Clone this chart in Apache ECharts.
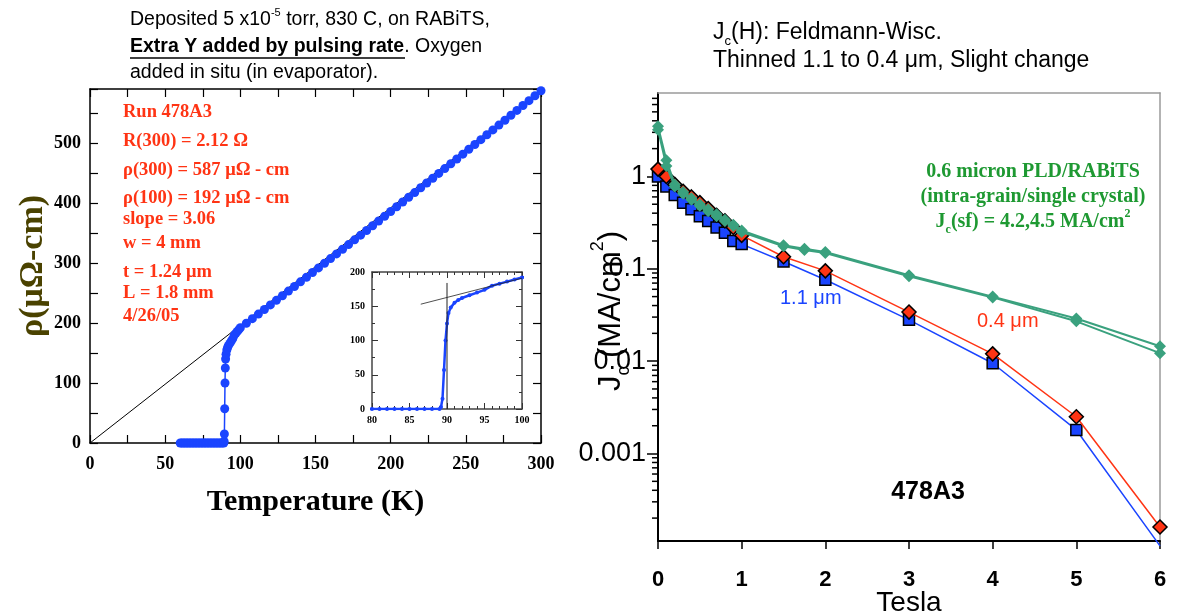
<!DOCTYPE html>
<html><head><meta charset="utf-8">
<script src="https://cdn.jsdelivr.net/npm/echarts@6/dist/echarts.min.js"></script>
<style>html,body{margin:0;padding:0;background:#fff}#c{width:1188px;height:616px}</style>
</head><body><div id="c"></div>
<script>
// ---------- Left panel: resistivity vs temperature ----------
const tempK = [60,61,62,63,64,65,66,67,68,69,70,71,72,73,74,75,76,77,78,79,80,81,82,83,84,85,86,87,88,89,
  89.2,89.4,89.6,89.8,90,90.2,90.5,91,91.5,92,93,94,95,96,97,98,99,100,
  104,108,112,116,120,124,128,132,136,140,144,148,152,156,160,164,168,172,176,180,184,188,192,196,200,
  204,208,212,216,220,224,228,232,236,240,244,248,252,256,260,264,268,272,276,280,284,288,292,296,300];
const rho = [0,0,0,0,0,0,0,0,0,0,0,0,0,0,0,0,0,0,0,0,0,0,0,0,0,0,0,0,0,0,
  3,15,57,100,125,140,148,155,159,162,166,170,174,180,183,186,189,192,
  199.6,207.2,214.9,222.5,230.2,237.8,245.5,253.2,260.9,268.6,276.3,284.1,291.8,299.6,307.4,315.1,322.9,330.7,338.6,346.4,354.2,362.1,370.0,377.9,385.8,
  393.7,401.6,409.5,417.4,425.4,433.4,441.3,449.3,457.3,465.4,473.4,481.4,489.5,497.5,505.6,513.7,521.8,529.9,538.0,546.2,554.3,562.5,570.6,578.8,587];
const fitT = [0, 300];
const fitRho = [0, 588];
const insetTanT = [86.5, 100];
const insetTanRho = [153, 191];
const insetVertT = [90, 90];
const insetVertRho = [0, 184];
const tempTickLabels = ['0','50','100','150','200','250','300'];
const rhoTickLabels = ['0','100','200','300','400','500'];
const insetTTickLabels = ['80','85','90','95','100'];
const insetRhoTickLabels = ['0','50','100','150','200'];

// ---------- Right panel: Jc(H) ----------
const fieldBR = [0,0.1,0.2,0.3,0.4,0.5,0.6,0.7,0.8,0.9,1.0,1.5,2,3,4,5,6];
const jcThick = [1.0,0.78,0.63,0.52,0.44,0.37,0.33,0.28,0.245,0.2,0.185,0.12,0.076,0.028,0.0095,0.0018,0.0001]; // 1.1 um
const jcThin  = [1.2,1.0,0.82,0.69,0.6,0.52,0.45,0.38,0.33,0.28,0.23,0.135,0.095,0.034,0.012,0.0025,0.00016]; // 0.4 um
const fieldG = [0,0.1,0.2,0.3,0.4,0.5,0.6,0.7,0.8,0.9,1.0,1.5,1.75,2,3,4,5,6,7];
const jcPLD1 = [3.5,1.5,0.82,0.68,0.58,0.5,0.44,0.39,0.34,0.3,0.26,0.18,0.165,0.152,0.085,0.05,0.029,0.0145,0.0072];
const jcPLD2 = [3.2,1.3,0.78,0.65,0.56,0.48,0.42,0.37,0.33,0.29,0.25,0.175,0.16,0.148,0.083,0.049,0.027,0.0122,0.0056];
const jcTickLabels = ['0.001','0.01','0.1','1']; // exponents -3..0
const teslaTickLabels = ['0','1','2','3','4','5','6'];
const jcMin = 1.13e-4, jcMax = 8;
const logDecades = [0.0001,0.001,0.01,0.1,1];
const logMantissas = [2,3,4,5,6,7,8,9];

const zip = (a,b) => a.map((v,i)=>[v,b[i]]);
const SERIF = '"Liberation Serif","Times New Roman",serif';
const SANS = '"Liberation Sans",Arial,sans-serif';
const RED = '#ff3414', BLUE = '#1a44ff', GREEN = '#3aa17e', TXTGREEN = '#1e9932';

const minorLog = [];
logDecades.forEach(d => logMantissas.forEach(m => { const v = d*m; if (v > jcMin && v < jcMax) minorLog.push([0, v]); }));

const chart = echarts.init(document.getElementById('c'));

const leftTick = {show:true, inside:true, length:8, lineStyle:{color:'#000', width:1.2}};
const insetLine = {show:true, lineStyle:{color:'#444', width:1.5}};

chart.setOption({
  animation:false,
  backgroundColor:'#fff',
  grid:[
    {left:90, right:647, top:89, bottom:173, outerBoundsMode:'none', containLabel:false},
    {left:372, right:666, top:272, bottom:207, outerBoundsMode:'none', containLabel:false},
    {left:658, right:28, top:93, bottom:75, outerBoundsMode:'none', containLabel:false}
  ],
  xAxis:[
    {gridIndex:0, type:'value', min:0, max:300, interval:25, position:'bottom',
      axisLine:{show:true, onZero:false, lineStyle:{color:'#000', width:1.5}}, axisTick:leftTick, splitLine:{show:false},
      axisLabel:{fontFamily:SERIF, fontWeight:'bold', fontSize:18, color:'#000', margin:12,
        formatter:v => tempTickLabels.includes(String(v)) ? String(v) : ''},
      name:'Temperature (K)', nameLocation:'middle', nameGap:44, nameMoveOverlap:false,
      nameTextStyle:{fontFamily:SERIF, fontWeight:'bold', fontSize:30, color:'#000'}},
    {gridIndex:0, type:'value', min:0, max:300, interval:25, position:'top',
      axisLine:{show:true, onZero:false, lineStyle:{color:'#000', width:1.5}}, axisTick:leftTick, axisLabel:{show:false}, splitLine:{show:false}},
    {gridIndex:1, type:'value', min:80, max:100, interval:5, position:'bottom',
      axisLine:Object.assign({onZero:false}, insetLine), axisTick:{inside:true, length:6, lineStyle:{color:'#333'}},
      minorTick:{show:true, splitNumber:5, length:3, lineStyle:{color:'#333'}}, splitLine:{show:false}, minorSplitLine:{show:false},
      axisLabel:{fontFamily:SERIF, fontWeight:'bold', fontSize:10, color:'#000', margin:6,
        formatter:v => insetTTickLabels.includes(String(v)) ? String(v) : ''}},
    {gridIndex:1, type:'value', min:80, max:100, interval:5, position:'top',
      axisLine:Object.assign({onZero:false}, insetLine), axisTick:{inside:true, length:6, lineStyle:{color:'#333'}},
      minorTick:{show:true, splitNumber:5, length:3, lineStyle:{color:'#333'}}, axisLabel:{show:false}, splitLine:{show:false}},
    {gridIndex:2, type:'value', min:0, max:6, interval:1, position:'bottom',
      axisLine:{show:true, onZero:false, lineStyle:{color:'#000', width:2}},
      axisTick:{show:true, inside:false, length:8, lineStyle:{color:'#000', width:1.5}}, splitLine:{show:false},
      axisLabel:{fontFamily:SANS, fontWeight:'bold', fontSize:22, color:'#000', margin:28,
        formatter:v => teslaTickLabels.includes(String(v)) ? String(v) : ''},
      name:'Tesla', nameLocation:'middle', nameGap:48, nameMoveOverlap:false,
      nameTextStyle:{fontFamily:SANS, fontSize:28, color:'#000', lineHeight:28}},
    {gridIndex:2, type:'value', min:0, max:6, position:'top',
      axisLine:{show:true, onZero:false, lineStyle:{color:'#9a9a9a', width:1.5}}, axisTick:{show:false}, axisLabel:{show:false}, splitLine:{show:false}}
  ],
  yAxis:[
    {gridIndex:0, type:'value', min:0, max:590, interval:50, position:'left',
      axisLine:{show:true, onZero:false, lineStyle:{color:'#000', width:1.5}}, axisTick:leftTick, splitLine:{show:false},
      axisLabel:{fontFamily:SERIF, fontWeight:'bold', fontSize:18, color:'#000', margin:9,
        formatter:v => rhoTickLabels.includes(String(v)) ? String(v) : ''}},
    {gridIndex:0, type:'value', min:0, max:590, interval:50, position:'right',
      axisLine:{show:true, onZero:false, lineStyle:{color:'#000', width:1.5}}, axisTick:leftTick, axisLabel:{show:false}, splitLine:{show:false}},
    {gridIndex:1, type:'value', min:0, max:200, interval:50, position:'left',
      axisLine:Object.assign({onZero:false}, insetLine), axisTick:{inside:true, length:6, lineStyle:{color:'#333'}},
      minorTick:{show:true, splitNumber:2, length:3, lineStyle:{color:'#333'}}, splitLine:{show:false}, minorSplitLine:{show:false},
      axisLabel:{fontFamily:SERIF, fontWeight:'bold', fontSize:10, color:'#000', margin:7,
        formatter:v => insetRhoTickLabels.includes(String(v)) ? String(v) : ''}},
    {gridIndex:1, type:'value', min:0, max:200, interval:50, position:'right',
      axisLine:Object.assign({onZero:false}, insetLine), axisTick:{inside:true, length:6, lineStyle:{color:'#333'}},
      minorTick:{show:true, splitNumber:2, length:3, lineStyle:{color:'#333'}}, axisLabel:{show:false}, splitLine:{show:false}},
    {gridIndex:2, type:'log', min:jcMin, max:jcMax, logBase:10, position:'left',
      axisLine:{show:true, onZero:false, lineStyle:{color:'#000', width:2}},
      axisTick:{show:true, inside:false, length:11, lineStyle:{color:'#000', width:1.5}}, splitLine:{show:false},
      axisLabel:{fontFamily:SANS, fontSize:27, color:'#000', margin:12, showMinLabel:false, showMaxLabel:false,
        formatter:v => { const l = Math.log10(v), e = Math.round(l);
          if (Math.abs(l - e) > 1e-6) return ''; const i = e + 3; return (i >= 0 && i < jcTickLabels.length) ? jcTickLabels[i] : ''; }}},
    {gridIndex:2, type:'value', min:0, max:1, position:'right',
      axisLine:{show:true, onZero:false, lineStyle:{color:'#9a9a9a', width:1.5}}, axisTick:{show:false}, axisLabel:{show:false}, splitLine:{show:false}}
  ],
  series:[
    {type:'line', xAxisIndex:0, yAxisIndex:0, data:zip(fitT, fitRho), symbol:'none', lineStyle:{color:'#000', width:1}, z:1},
    {type:'line', xAxisIndex:0, yAxisIndex:0, data:zip(tempK, rho), symbol:'circle', symbolSize:9, showAllSymbol:true,
      itemStyle:{color:BLUE}, lineStyle:{color:BLUE, width:1.5}, z:2},
    {type:'line', xAxisIndex:2, yAxisIndex:2, data:zip(tempK, rho), symbol:'circle', symbolSize:4, showAllSymbol:true, clip:true,
      itemStyle:{color:BLUE}, lineStyle:{color:BLUE, width:2.5}, z:3},
    {type:'line', xAxisIndex:2, yAxisIndex:2, data:zip(insetTanT, insetTanRho), symbol:'none', lineStyle:{color:'#222', width:0.8}, z:4},
    {type:'line', xAxisIndex:2, yAxisIndex:2, data:zip(insetVertT, insetVertRho), symbol:'none', lineStyle:{color:'#222', width:1}, z:4},

    {type:'custom', xAxisIndex:4, yAxisIndex:4, data:minorLog, clip:false, silent:true,
      renderItem:(params, api) => { const p = api.coord([0, api.value(1)]);
        return {type:'line', shape:{x1:p[0]-6, y1:p[1], x2:p[0], y2:p[1]}, style:{stroke:'#000', lineWidth:1.5}}; }},
    {type:'line', xAxisIndex:4, yAxisIndex:4, clip:false,
      data:zip(fieldBR, jcThick).map((d,i,a)=> i === a.length-1 ? {value:d, symbol:'none'} : d),
      symbol:'rect', symbolSize:11, itemStyle:{color:BLUE, borderColor:'#000', borderWidth:1.5},
      lineStyle:{color:BLUE, width:1.5}, z:5},
    {type:'line', xAxisIndex:4, yAxisIndex:4, clip:false, data:zip(fieldBR, jcThin),
      symbol:'diamond', symbolSize:14, itemStyle:{color:RED, borderColor:'#000', borderWidth:1.5},
      lineStyle:{color:RED, width:1.5}, z:6},
    {type:'line', xAxisIndex:4, yAxisIndex:4, clip:false, data:zip(fieldG, jcPLD1),
      symbol:'diamond', symbolSize:12, itemStyle:{color:GREEN}, lineStyle:{color:GREEN, width:2}, z:7},
    {type:'line', xAxisIndex:4, yAxisIndex:4, clip:false, data:zip(fieldG, jcPLD2),
      symbol:'diamond', symbolSize:12, itemStyle:{color:GREEN}, lineStyle:{color:GREEN, width:2}, z:7}
  ],
  graphic:[
    // left header
    {type:'text', x:130, y:20, style:{text:'Deposited 5 x10{sup|-5} torr, 830 C, on RABiTS,', fontFamily:SANS, fontSize:19.5, fill:'#000',
      textVerticalAlign:'middle', rich:{sup:{fontSize:11, verticalAlign:'top', lineHeight:25, fontFamily:SANS, fill:'#000'}}}},
    {type:'text', x:130, y:47, style:{text:'{b|Extra Y added by pulsing rate}. Oxygen', fontFamily:SANS, fontSize:19.5, fill:'#000',
      textVerticalAlign:'middle', rich:{b:{fontWeight:'bold', fontSize:19.5, fontFamily:SANS, fill:'#000'}}}},
    {type:'line', shape:{x1:130, y1:58, x2:405, y2:58}, style:{stroke:'#000', lineWidth:1.5}},
    {type:'text', x:130, y:73, style:{text:'added in situ (in evaporator).', fontFamily:SANS, fontSize:19.5, fill:'#000', textVerticalAlign:'middle'}},
    // left y title
    {type:'text', x:33, y:266, rotation:Math.PI/2, style:{text:'ρ(μΩ-cm)', fontFamily:SERIF, fontWeight:'bold', fontSize:34, fill:'#4a4200',
      textAlign:'center', textVerticalAlign:'middle'}},
    // red annotations
    ...[['Run 478A3',112],['R(300) = 2.12 Ω',141],['ρ(300) = 587 μΩ - cm',170],['ρ(100) = 192 μΩ - cm',198],['slope = 3.06',219],
        ['w = 4 mm',243],['t = 1.24 μm',272],['L = 1.8 mm',293],['4/26/05',316]].map(([t,y]) => (
      {type:'text', x:123, y:y, style:{text:t, fontFamily:SERIF, fontWeight:'bold', fontSize:18.5, fill:RED, textVerticalAlign:'middle'}})),
    // right header
    {type:'text', x:713, y:33, style:{text:'J{sub|c}(H): Feldmann-Wisc.', fontFamily:SANS, fontSize:23, fill:'#000', textVerticalAlign:'middle',
      rich:{sub:{fontSize:13, verticalAlign:'bottom', lineHeight:30, fontFamily:SANS, fill:'#000'}}}},
    {type:'text', x:713, y:61, style:{text:'Thinned 1.1 to 0.4 μm, Slight change', fontFamily:SANS, fontSize:23, fill:'#000', textVerticalAlign:'middle'}},
    // right y title
    {type:'text', x:611, y:311, rotation:Math.PI/2, style:{text:'J{sub|c} (MA/cm{sup|2})', fontFamily:SANS, fontSize:31, fill:'#000',
      textAlign:'center', textVerticalAlign:'middle',
      rich:{sub:{fontSize:18, verticalAlign:'bottom', lineHeight:44, fontFamily:SANS, fill:'#000'},
            sup:{fontSize:18, verticalAlign:'top', lineHeight:44, fontFamily:SANS, fill:'#000'}}}},
    // green annotation
    {type:'text', x:1033, y:172, style:{text:'0.6 micron PLD/RABiTS', fontFamily:SERIF, fontWeight:'bold', fontSize:20, fill:TXTGREEN, textAlign:'center', textVerticalAlign:'middle'}},
    {type:'text', x:1033, y:197, style:{text:'(intra-grain/single crystal)', fontFamily:SERIF, fontWeight:'bold', fontSize:20, fill:TXTGREEN, textAlign:'center', textVerticalAlign:'middle'}},
    {type:'text', x:1033, y:222, style:{text:'J{sub|c}(sf) = 4.2,4.5 MA/cm{sup|2}', fontFamily:SERIF, fontWeight:'bold', fontSize:20, fill:TXTGREEN,
      textAlign:'center', textVerticalAlign:'middle',
      rich:{sub:{fontSize:12, verticalAlign:'bottom', lineHeight:28, fontFamily:SERIF, fontWeight:'bold', fill:TXTGREEN},
            sup:{fontSize:12, verticalAlign:'top', lineHeight:28, fontFamily:SERIF, fontWeight:'bold', fill:TXTGREEN}}}},
    // series labels
    {type:'text', x:780, y:298, style:{text:'1.1 μm', fontFamily:SANS, fontSize:20, fill:BLUE, textVerticalAlign:'middle'}},
    {type:'text', x:977, y:321, style:{text:'0.4 μm', fontFamily:SANS, fontSize:20, fill:RED, textVerticalAlign:'middle'}},
    {type:'text', x:928, y:492, style:{text:'478A3', fontFamily:SANS, fontWeight:'bold', fontSize:25, fill:'#000', textAlign:'center', textVerticalAlign:'middle'}}
  ]
});
</script></body></html>
